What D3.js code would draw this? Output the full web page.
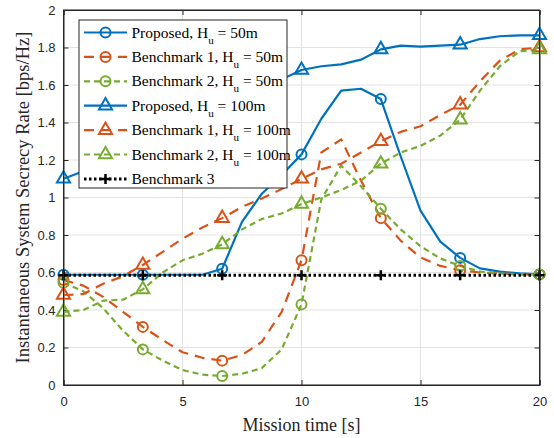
<!DOCTYPE html>
<html><head><meta charset="utf-8">
<script src="https://cdn.jsdelivr.net/npm/d3@7"></script>
<style>body{margin:0;background:#fff}svg{display:block}</style>
</head><body>
<script>
const time = [0,0.833,1.667,2.5,3.333,4.167,5,5.833,6.667,7.5,8.333,9.167,10,10.833,11.667,12.5,13.333,14.167,15,15.833,16.667,17.5,18.333,19.167,20];
const proposed50 = [0.588,0.588,0.588,0.588,0.588,0.588,0.588,0.588,0.62,0.87,1.02,1.12,1.23,1.42,1.57,1.58,1.525,1.22,0.93,0.765,0.678,0.622,0.605,0.595,0.59];
const bench1_50 = [0.56,0.53,0.47,0.39,0.31,0.24,0.175,0.145,0.13,0.16,0.23,0.39,0.665,1.24,1.31,1.09,0.89,0.77,0.68,0.635,0.612,0.6,0.595,0.59,0.59];
const bench2_50 = [0.545,0.5,0.41,0.29,0.19,0.13,0.08,0.055,0.048,0.06,0.09,0.19,0.43,0.99,1.17,1.06,0.94,0.83,0.74,0.675,0.635,0.605,0.595,0.59,0.59];
const proposed100 = [1.10,1.14,1.18,1.22,1.27,1.32,1.37,1.42,1.47,1.52,1.57,1.63,1.68,1.70,1.71,1.735,1.79,1.81,1.805,1.81,1.815,1.845,1.86,1.865,1.865];
const bench1_100 = [0.48,0.485,0.54,0.58,0.64,0.71,0.78,0.84,0.89,0.95,0.995,1.045,1.10,1.15,1.18,1.24,1.30,1.35,1.38,1.44,1.495,1.62,1.73,1.79,1.80];
const bench2_100 = [0.39,0.40,0.45,0.455,0.51,0.60,0.665,0.70,0.75,0.83,0.885,0.915,0.965,1.00,1.04,1.09,1.18,1.24,1.275,1.33,1.415,1.57,1.70,1.78,1.79];
const bench3 = [0.585,0.585,0.585,0.585,0.585,0.585,0.585,0.585,0.585,0.585,0.585,0.585,0.585,0.585,0.585,0.585,0.585,0.585,0.585,0.585,0.585,0.585,0.585,0.585,0.585];
const xTicks = [0,5,10,15,20];
const yTicks = [0,0.2,0.4,0.6,0.8,1,1.2,1.4,1.6,1.8,2];
const seriesNames = ["Proposed, H|u| = 50m","Benchmark 1, H|u| = 50m","Benchmark 2, H|u| = 50m","Proposed, H|u| = 100m","Benchmark 1, H|u| = 100m","Benchmark 2, H|u| = 100m","Benchmark 3"];

const W=554,H=438;
const m={l:63.5,r:539.5,t:10,b:385};
const svg=d3.select("body").append("svg").attr("width",W).attr("height",H);
const x=d3.scaleLinear().domain([0,20]).range([m.l,m.r]);
const y=d3.scaleLinear().domain([0,2]).range([m.b,m.t]);

const blue="#0072BD",orange="#D95319",green="#77AC30",black="#000";
const series=[
 {v:proposed50,c:blue,dash:null,mk:"circle"},
 {v:bench1_50,c:orange,dash:"10,7",mk:"circle"},
 {v:bench2_50,c:green,dash:"6,4",mk:"circle"},
 {v:proposed100,c:blue,dash:null,mk:"tri"},
 {v:bench1_100,c:orange,dash:"10,7",mk:"tri"},
 {v:bench2_100,c:green,dash:"6,4",mk:"tri"},
 {v:bench3,c:black,dash:"2.5,2.5",mk:"plus"}
];

// grid
const g=svg.append("g");
g.selectAll(".gx").data(xTicks).enter().append("line")
 .attr("x1",d=>x(d)).attr("x2",d=>x(d)).attr("y1",m.t).attr("y2",m.b)
 .attr("stroke","#e3e3e3").attr("stroke-width",1);
g.selectAll(".gy").data(yTicks).enter().append("line")
 .attr("x1",m.l).attr("x2",m.r).attr("y1",d=>y(d)).attr("y2",d=>y(d))
 .attr("stroke","#e3e3e3").attr("stroke-width",1);

// axes
const ax=svg.append("g").attr("transform",`translate(0,${m.b})`)
 .call(d3.axisBottom(x).tickValues(xTicks).tickSize(-5).tickPadding(12).tickFormat(d3.format("d")));
const axT=svg.append("g").attr("transform",`translate(0,${m.t})`)
 .call(d3.axisTop(x).tickValues(xTicks).tickSize(-5).tickFormat(""));
const ay=svg.append("g").attr("transform",`translate(${m.l},0)`)
 .call(d3.axisLeft(y).tickValues(yTicks).tickSize(-5).tickPadding(8).tickFormat(d=>d3.format("~g")(d)));
const ayR=svg.append("g").attr("transform",`translate(${m.r},0)`)
 .call(d3.axisRight(y).tickValues(yTicks).tickSize(-5).tickFormat(""));
[ax,axT,ay,ayR].forEach(a=>{
 a.selectAll("path").attr("stroke","#262626").attr("stroke-width",1);
 a.selectAll("line").attr("stroke","#262626");
 a.selectAll("text").attr("fill","#262626").style("font-family","'Liberation Sans',Arial,sans-serif").style("font-size","13px");
});

// lines
const line=d3.line().x((d,i)=>x(time[i])).y(d=>y(d));
const plot=svg.append("g");
series.forEach(s=>{
 plot.append("path").datum(s.v).attr("d",line).attr("fill","none")
  .attr("stroke",s.c).attr("stroke-width",s.mk==="plus"?3:2.2)
  .attr("stroke-dasharray",s.dash).attr("stroke-linejoin","round");
});
function marker(sel,type,c){
 if(type==="circle") sel.append("circle").attr("r",5).attr("fill","none").attr("stroke",c).attr("stroke-width",2);
 else if(type==="tri") sel.append("path").attr("d",d3.symbol(d3.symbolTriangle,75)()).attr("fill","none").attr("stroke",c).attr("stroke-width",2);
 else sel.append("path").attr("d","M-5,0H5M0,-5V5").attr("fill","none").attr("stroke",c).attr("stroke-width",2.5);
}
series.forEach(s=>{
 s.v.forEach((v,i)=>{
  if(i%4!==0) return;
  const mg=plot.append("g").attr("transform",`translate(${x(time[i])},${y(v)})`);
  marker(mg,s.mk,s.c);
 });
});

// frame
svg.append("rect").attr("x",m.l).attr("y",m.t).attr("width",m.r-m.l).attr("height",m.b-m.t)
 .attr("fill","none").attr("stroke","#262626").attr("stroke-width",1);

// legend
const lg=svg.append("g");
const lx=79,ly=20,lw=208,lh=168;
lg.append("rect").attr("x",lx).attr("y",ly).attr("width",lw).attr("height",lh)
 .attr("fill","#fff").attr("stroke","#262626").attr("stroke-width",1);
series.forEach((s,i)=>{
 const yy=32.5+i*24.4;
 lg.append("line").attr("x1",84).attr("x2",127).attr("y1",yy).attr("y2",yy)
  .attr("stroke",s.c).attr("stroke-width",s.mk==="plus"?3:2.2).attr("stroke-dasharray",s.dash);
 const mg=lg.append("g").attr("transform",`translate(105.5,${yy})`);
 marker(mg,s.mk,s.c);
 const parts=seriesNames[i].split("|");
 const t=lg.append("text").attr("x",131.5).attr("y",yy+5)
  .style("font-family","'Liberation Serif','Times New Roman',serif").style("font-size","15.5px").attr("fill","#000");
 t.append("tspan").text(parts[0]);
 if(parts.length>1){
  t.append("tspan").attr("dy",6).style("font-size","11px").text(parts[1]);
  t.append("tspan").attr("dy",-6).text(parts[2]);
 }
});

// axis titles
svg.append("text").attr("x",(m.l+m.r)/2).attr("y",431).attr("text-anchor","middle")
 .style("font-family","'Liberation Serif','Times New Roman',serif").style("font-size","18px").attr("fill","#262626")
 .text("Mission time [s]");
svg.append("text").attr("transform",`translate(29,${(m.t+m.b)/2}) rotate(-90)`).attr("text-anchor","middle")
 .style("font-family","'Liberation Serif','Times New Roman',serif").style("font-size","18.5px").attr("fill","#262626")
 .text("Instantaneous System Secrecy Rate [bps/Hz]");
</script>
</body></html>
